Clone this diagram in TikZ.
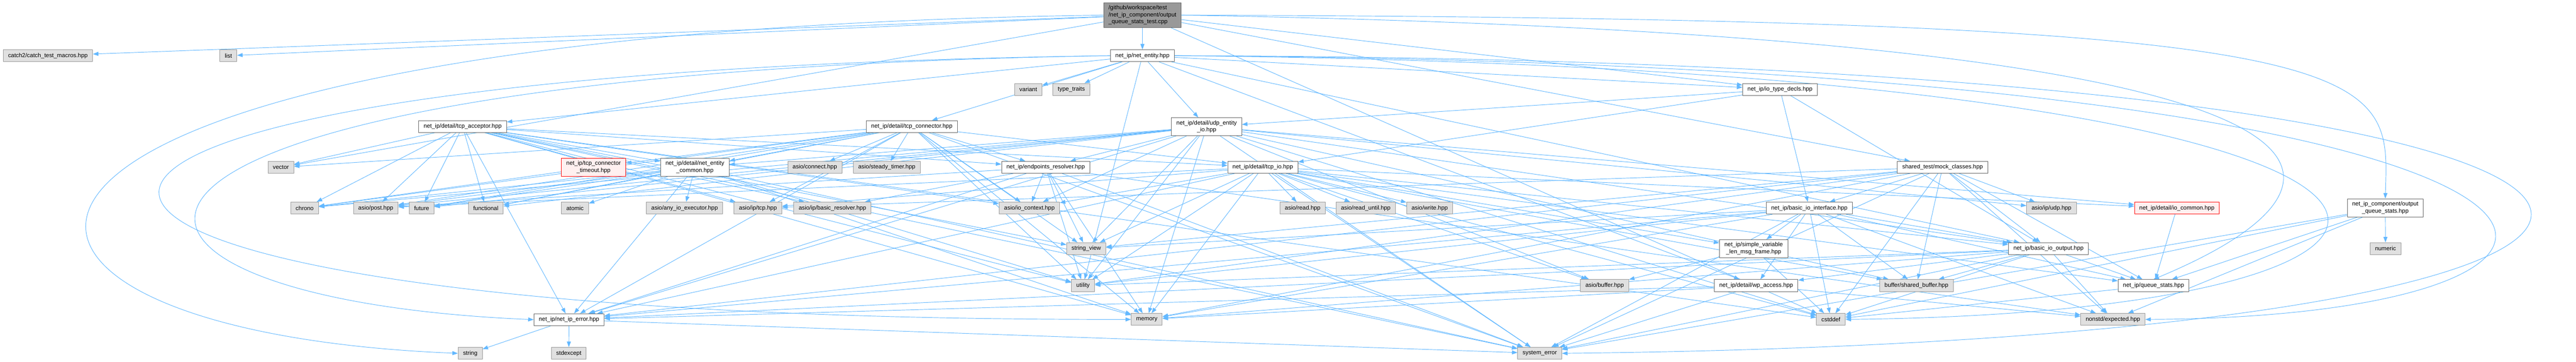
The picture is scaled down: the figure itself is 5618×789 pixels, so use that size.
\documentclass[tikz,border=0pt]{standalone}
\usepackage{fontspec}
\setmainfont{Liberation Sans}
\usetikzlibrary{arrows.meta, backgrounds}

\definecolor{incblue}{HTML}{63B8FF}
\definecolor{fileline}{HTML}{666666}
\definecolor{sysline}{HTML}{999999}
\definecolor{sysfill}{HTML}{E0E0E0}
\definecolor{rootfill}{HTML}{999999}
\definecolor{cutfill}{HTML}{FFF0F0}

\tikzset{
  file/.style={rectangle, draw=fileline, fill=white, line width=0.8pt,
    inner xsep=8pt, inner ysep=4.5pt, minimum height=19.5pt, align=center,
    font=\fontsize{9.6}{11.5}\selectfont},
  sysfile/.style={file, draw=sysline, fill=sysfill},
  cutfile/.style={file, draw=red, fill=cutfill},
  rootfile/.style={file, fill=rootfill, align=left},
  inc/.style={->, draw=incblue, line width=0.8pt},
}

\begin{document}
\begin{tikzpicture}[x=0.75pt, y=-0.75pt, >={Triangle[length=9pt, width=6.5pt]}, line cap=round, line join=round]
\useasboundingbox (0,0) rectangle (5618,789);

% ================= test file and first level =================
\node[rootfile] (root) at (2491.5,33) {/github/workspace/test\\/net\_ip\_component/output\\\_queue\_stats\_test.cpp};
\node[sysfile] (catch) at (104.5,121.5) {catch2/catch\_test\_macros.hpp};
\node[sysfile] (list) at (498,121.5) {list};
\node[file] (netentity) at (2491.5,121.5) {net\_ip/net\_entity.hpp};

\node[sysfile] (variant) at (2242.5,195) {variant};
\node[sysfile] (typetraits) at (2336.5,195) {type\_traits};
\node[file] (iotypes) at (3882,195) {net\_ip/io\_type\_decls.hpp};

% ================= entity implementations =================
\node[file] (tcpacceptor) at (1009,276) {net\_ip/detail/tcp\_acceptor.hpp};
\node[file] (tcpconnector) at (1988.5,276) {net\_ip/detail/tcp\_connector.hpp};
\node[file] (udpentity) at (2631.5,276.5) {net\_ip/detail/udp\_entity\\\_io.hpp};

\node[sysfile] (vector) at (612.5,365) {vector};
\node[cutfile] (conntimeout) at (1294.5,365) {net\_ip/tcp\_connector\\\_timeout.hpp};
\node[file] (entitycommon) at (1515.5,365) {net\_ip/detail/net\_entity\\\_common.hpp};
\node[sysfile] (connect) at (1777,365) {asio/connect.hpp};
\node[sysfile] (steadytimer) at (1934,365) {asio/steady\_timer.hpp};
\node[file] (resolver) at (2280.5,365) {net\_ip/endpoints\_resolver.hpp};
\node[file] (tcpio) at (2754,365) {net\_ip/detail/tcp\_io.hpp};
\node[file] (mock) at (4236.5,365) {shared\_test/mock\_classes.hpp};

% ================= asio and std headers =================
\node[sysfile] (chrono) at (664.5,454) {chrono};
\node[sysfile] (post) at (819.5,454) {asio/post.hpp};
\node[sysfile] (future) at (919.5,454) {future};
\node[sysfile] (functional) at (1059.5,454) {functional};
\node[sysfile] (atomic) at (1254,454) {atomic};
\node[sysfile] (anyexec) at (1493,454) {asio/any\_io\_executor.hpp};
\node[sysfile] (iptcp) at (1653,454) {asio/ip/tcp.hpp};
\node[sysfile] (basicresolver) at (1815.5,454) {asio/ip/basic\_resolver.hpp};
\node[sysfile] (iocontext) at (2245,454) {asio/io\_context.hpp};
\node[sysfile] (read) at (2841,454) {asio/read.hpp};
\node[sysfile] (readuntil) at (2978.5,454) {asio/read\_until.hpp};
\node[sysfile] (write) at (3118,454) {asio/write.hpp};
\node[file] (ioiface) at (3946,454) {net\_ip/basic\_io\_interface.hpp};
\node[sysfile] (ipudp) at (4474,454) {asio/ip/udp.hpp};
\node[cutfile] (iocommon) at (4747.5,454) {net\_ip/detail/io\_common.hpp};
\node[file] (oqstats) at (5202,453.5) {net\_ip\_component/output\\\_queue\_stats.hpp};

\node[sysfile] (stringview) at (2369,542.5) {string\_view};
\node[file] (msgframe) at (3824.5,542.5) {net\_ip/simple\_variable\\\_len\_msg\_frame.hpp};
\node[file] (iooutput) at (4467.5,542.5) {net\_ip/basic\_io\_output.hpp};
\node[sysfile] (numeric) at (5202.5,542.5) {numeric};

\node[sysfile] (utility) at (2362,623) {utility};
\node[sysfile] (buffer) at (3499.5,623) {asio/buffer.hpp};
\node[file] (wpaccess) at (3830,623) {net\_ip/detail/wp\_access.hpp};
\node[sysfile] (sharedbuf) at (4179.5,623) {buffer/shared\_buffer.hpp};
\node[file] (qstats) at (4696.5,623) {net\_ip/queue\_stats.hpp};

\node[file] (iperror) at (1241,697.5) {net\_ip/net\_ip\_error.hpp};
\node[sysfile] (memory) at (2501,697) {memory};
\node[sysfile] (cstddef) at (3993,697) {cstddef};
\node[sysfile] (expected) at (4608,697) {nonstd/expected.hpp};

\node[sysfile] (string) at (1025.5,771) {string};
\node[sysfile] (stdexcept) at (1240.5,771) {stdexcept};
\node[sysfile] (syserror) at (3358,771) {system\_error};

% ================= include edges (drawn under the boxes) =================
\begin{scope}[on background layer]
\foreach \dst in {catch,list,vector,netentity,iotypes,mock,cstddef}
  \draw[inc] (root) -- (\dst);
\draw[inc] (root.west) .. controls (-250,70) and (-250,720) .. (string.west);
\draw[inc] (root.east) .. controls (5250,40) and (5210,150) .. (oqstats.north);
\draw[inc] (root.east) .. controls (5300,80) and (5200,400) .. (qstats.north);

\foreach \dst in {variant,typetraits,tcpacceptor,tcpconnector,udpentity,iotypes,utility,wpaccess,iooutput}
  \draw[inc] (netentity) -- (\dst);
\draw[inc] (netentity.west) .. controls (0,160) and (50,650) .. (iperror.west);
\draw[inc] (netentity.west) .. controls (-400,160) and (-300,700) .. (memory.west);
\draw[inc] (netentity.east) .. controls (6350,130) and (6350,740) .. (syserror.east);
\draw[inc] (netentity.east) .. controls (5920,140) and (5920,690) .. (expected.east);
\draw[inc] (netentity.east) .. controls (5610,150) and (5610,680) .. (cstddef.east);

\foreach \dst in {tcpio,udpentity,ioiface,iooutput}
  \draw[inc] (iotypes) -- (\dst);

\foreach \dst in {vector,chrono,post,future,functional,iptcp,basicresolver,iocontext,entitycommon,tcpio,resolver,iperror,stringview,utility,memory,syserror,cstddef}
  \draw[inc] (tcpacceptor) -- (\dst);

\foreach \dst in {vector,chrono,post,future,functional,iptcp,iocontext,connect,steadytimer,conntimeout,entitycommon,tcpio,resolver,iperror,stringview,utility,memory,syserror}
  \draw[inc] (tcpconnector) -- (\dst);

\foreach \dst in {ipudp,buffer,post,iocontext,chrono,functional,future,entitycommon,resolver,iocommon,iooutput,sharedbuf,iperror,stringview,utility,memory,syserror,cstddef}
  \draw[inc] (udpentity) -- (\dst);

\foreach \dst in {iptcp,iocontext,read,readuntil,write,buffer,post,iocommon,qstats,iperror,iooutput,msgframe,sharedbuf,stringview,utility,memory,syserror,cstddef}
  \draw[inc] (tcpio) -- (\dst);

\foreach \dst in {anyexec,atomic,functional,future,chrono,post,iperror,syserror,utility,memory}
  \draw[inc] (entitycommon) -- (\dst);

\draw[inc] (conntimeout) -- (chrono);

\foreach \dst in {basicresolver,iocontext,post,stringview,utility,memory,syserror,iperror,expected}
  \draw[inc] (resolver) -- (\dst);

\foreach \dst in {iptcp,ipudp,ioiface,iooutput,sharedbuf,qstats,iperror,expected,stringview,utility,memory,cstddef,syserror}
  \draw[inc] (mock) -- (\dst);

\draw[inc] (iocommon) -- (qstats);

\foreach \dst in {msgframe,wpaccess,iooutput,qstats,iperror,expected,sharedbuf,stringview,utility,memory,syserror,cstddef}
  \draw[inc] (ioiface) -- (\dst);

\foreach \dst in {numeric,qstats,expected,cstddef,syserror}
  \draw[inc] (oqstats) -- (\dst);

\foreach \dst in {wpaccess,sharedbuf,qstats,expected,cstddef,memory,utility,syserror,iperror}
  \draw[inc] (iooutput) -- (\dst);

\foreach \dst in {buffer,cstddef}
  \draw[inc] (msgframe) -- (\dst);

\foreach \dst in {memory,syserror,iperror,expected}
  \draw[inc] (wpaccess) -- (\dst);

\draw[inc] (qstats) -- (cstddef);

\foreach \dst in {string,stdexcept,syserror}
  \draw[inc] (iperror) -- (\dst);
\end{scope}

\end{tikzpicture}
\end{document}
